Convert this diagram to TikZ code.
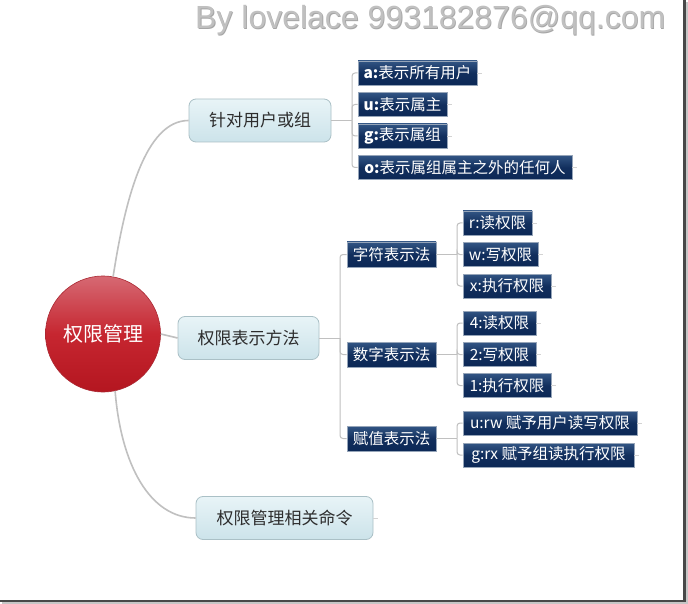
\documentclass[tikz,border=0pt]{standalone}
\usepackage{fontspec}
\usetikzlibrary{shapes.geometric}
\newfontfamily\cjk{Noto Sans CJK SC}
\newfontfamily\wmfont{Liberation Sans}
\definecolor{conngray}{RGB}{192,192,192}
\definecolor{navytop}{RGB}{50,85,132}
\definecolor{navybot}{RGB}{12,40,86}
\definecolor{navyedge}{RGB}{150,165,185}
\definecolor{bluetop}{RGB}{232,244,247}
\definecolor{bluebot}{RGB}{204,227,234}
\definecolor{blueedge}{RGB}{170,192,198}
\definecolor{redtop}{RGB}{214,105,115}
\definecolor{redmid}{RGB}{198,38,48}
\definecolor{redbot}{RGB}{180,22,32}
\definecolor{framedark}{RGB}{72,72,72}
\tikzset{
  conn/.style={draw=conngray, line width=1.6pt},
  bracket/.style={draw=conngray, line width=1pt, rounded corners=3pt},
  stub/.style={draw=conngray!70, line width=0.8pt},
  topic/.style={rectangle, rounded corners=7pt, top color=bluetop, bottom color=bluebot,
    draw=blueedge, line width=0.8pt, inner sep=0pt, minimum height=43pt,
    font=\cjk\fontsize{17}{17}\selectfont, text={rgb,255:red,45;green,45;blue,45}},
  navybox/.style={rectangle, top color=navytop, bottom color=navybot, middle color=navybot!85!navytop,
    draw=navyedge, line width=0.6pt, inner sep=0pt, minimum height=25pt,
    font=\cjk\fontsize{15.5}{15.5}\selectfont, text=white},
  rootnode/.style={ellipse, top color=redtop, bottom color=redbot, middle color=redmid,
    draw={rgb,255:red,170;green,40;blue,50}, line width=0.6pt, minimum width=115pt, minimum height=116pt,
    inner sep=0pt, font=\cjk\fontsize{20}{20}\selectfont, text=white},
}
\begin{document}
\begin{tikzpicture}[x=1pt,y=-1pt]
\useasboundingbox (0,0) rectangle (688,604);
\fill[white] (0,0) rectangle (688,604);
% frame shadow
\draw[gray!45, line width=2pt] (2,603) -- (687,603) -- (687,2);
\draw[framedark, line width=2.4pt] (0,601) -- (684.5,601) -- (684.5,0);
% watermark
\node[anchor=base west, font=\wmfont\fontsize{32}{32}\selectfont, text=gray!70, inner sep=0pt] (wms) at (195.8,29.3) {By lovelace 993182876@qq.com};
\node[anchor=base west, font=\wmfont\fontsize{32}{32}\selectfont, text={rgb,255:red,192;green,192;blue,192}, inner sep=0pt] (wm) at (195,28.5) {By lovelace 993182876@qq.com};

% root
\node[rootnode] (root) at (103,334) {权限管理};

% topics
\node[topic, minimum width=142pt] (n1) at (260,120.5) {针对用户或组};
\node[topic, minimum width=141pt] (n2) at (248.5,338) {权限表示方法};
\node[topic, minimum width=177pt] (n3) at (284.5,518) {权限管理相关命令};

% level 2
\node[navybox, minimum width=89pt] (m1) at (391.5,254.5) {字符表示法};
\node[navybox, minimum width=89pt] (m2) at (391.5,354.5) {数字表示法};
\node[navybox, minimum width=89pt] (m3) at (391.5,438.5) {赋值表示法};

% leaves of n1
\node[navybox, minimum width=119pt, minimum height=24pt] (la) at (417.5,73) {\textbf{a:}表示所有用户};
\node[navybox, minimum width=89pt, minimum height=24pt] (lu) at (402.5,104.5) {\textbf{u:}表示属主};
\node[navybox, minimum width=89pt, minimum height=24pt] (lg) at (402.5,136) {\textbf{g:}表示属组};
\node[navybox, minimum width=214pt, minimum height=24pt] (lo) at (465,167.5) {\textbf{o:}表示属组属主之外的任何人};

% leaves of m1
\node[navybox, minimum width=69pt, minimum height=24pt] (lr) at (497.5,223) {r:读权限};
\node[navybox, minimum width=75pt, minimum height=24pt] (lw) at (500.5,254.5) {w:写权限};
\node[navybox, minimum width=88pt, minimum height=24pt] (lx) at (507,286) {x:执行权限};
% leaves of m2
\node[navybox, minimum width=73pt, minimum height=24pt] (l4) at (499.5,323) {4:读权限};
\node[navybox, minimum width=73pt, minimum height=24pt] (l2) at (499.5,354.5) {2:写权限};
\node[navybox, minimum width=88pt, minimum height=24pt] (l1) at (507,385.5) {1:执行权限};
% leaves of m3
\node[navybox, minimum width=174pt, minimum height=24pt] (lurw) at (550,423) {u:rw 赋予用户读写权限};
\node[navybox, minimum width=171pt, minimum height=24pt] (lgrx) at (548.5,455) {g:rx 赋予组读执行权限};

% root connectors
\draw[conn] (root.80) .. controls (125,200) and (145,120.5) .. (n1.west);
\draw[conn] (root.east) -- (n2.west);
\draw[conn] (root.-78) .. controls (121,465) and (150,518) .. (n3.west);

% brackets
\coordinate (j1) at (352,120.5);
\draw[bracket] (n1.east) -- (j1);
\foreach \t in {la,lu,lg,lo} \draw[bracket] (j1) |- (\t.west);

\coordinate (j2) at (340,338);
\draw[bracket] (n2.east) -- (j2);
\foreach \t in {m1,m2,m3} \draw[bracket] (j2) |- (\t.west);

\coordinate (j3) at (457,254.5);
\draw[bracket] (m1.east) -- (j3);
\foreach \t in {lr,lw,lx} \draw[bracket] (j3) |- (\t.west);

\coordinate (j4) at (457,354.5);
\draw[bracket] (m2.east) -- (j4);
\foreach \t in {l4,l2,l1} \draw[bracket] (j4) |- (\t.west);

\coordinate (j5) at (457,438.5);
\draw[bracket] (m3.east) -- (j5);
\foreach \t in {lurw,lgrx} \draw[bracket] (j5) |- (\t.west);

% small stubs
\foreach \t in {la,lu,lg,lo,lr,lw,lx,l4,l2,l1,lurw,lgrx,n3} \draw[stub] (\t.east) -- ++(5,0);
\end{tikzpicture}
\end{document}
